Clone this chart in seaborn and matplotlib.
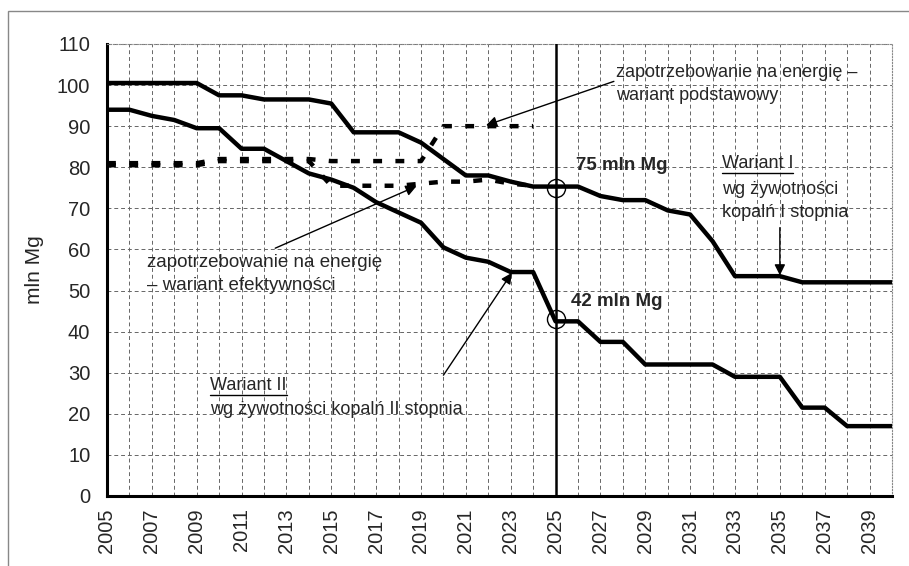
import numpy as np
import pandas as pd
import matplotlib
matplotlib.use("Agg")
import matplotlib.pyplot as plt
import seaborn as sns
from matplotlib.patches import Rectangle
from matplotlib.lines import Line2D

# data
years = list(range(2005, 2041))
wariant_1 = [100.5, 100.5, 100.5, 100.5, 100.5, 97.5, 97.5, 96.5, 96.5, 96.5,
             95.5, 88.5, 88.5, 88.5, 86.0, 82.0, 78.0, 78.0, 76.5, 75.3,
             75.3, 75.3, 73.0, 72.0, 72.0, 69.5, 68.5, 62.0, 53.5, 53.5,
             53.5, 52.0, 52.0, 52.0, 52.0, 52.0]
wariant_2 = [94.0, 94.0, 92.5, 91.5, 89.5, 89.5, 84.5, 84.5, 81.5, 78.5,
             77.0, 75.0, 71.5, 69.0, 66.5, 60.5, 58.0, 57.0, 54.5, 54.5,
             42.5, 42.5, 37.5, 37.5, 32.0, 32.0, 32.0, 32.0, 29.0, 29.0,
             29.0, 21.5, 21.5, 17.0, 17.0, 17.0]
demand_years = list(range(2005, 2025))
demand_basic = [81.0, 81.0, 81.0, 81.0, 81.0, 82.0, 82.0, 82.0, 82.0, 82.0,
                81.5, 81.5, 81.5, 81.5, 81.5, 90.0, 90.0, 90.0, 90.0, 90.0]
demand_eff = [80.5, 80.5, 80.5, 80.5, 80.5, 81.5, 81.5, 81.5, 81.5, 81.5,
              75.5, 75.5, 75.5, 75.5, 76.0, 76.5, 76.5, 77.0, 76.0, 75.5]
mark_year = 2025
mark_vals = [75, 43]
mark_labels = ["75 mln Mg", "42 mln Mg"]
x_ticklabels = [str(y) if (y - 2005) % 2 == 0 else "" for y in years]
y_ticks = list(range(0, 111, 10))

sns.set_style("white")
plt.rcParams['font.family'] = ['Liberation Sans', 'DejaVu Sans']

fig = plt.figure(figsize=(9.09, 5.66), dpi=100)
ax = fig.add_axes([0.1177, 0.1237, 0.8636, 0.7986])

# grid
for y in y_ticks[1:]:
    ax.axhline(y, color='#666666', lw=0.7, ls=(0, (4, 3)), zorder=0)
for x in years[1:]:
    ax.axvline(x, color='#666666', lw=0.7, ls=(0, (4, 3)), zorder=0)

# demand lines (dashed)
sns.lineplot(x=demand_years, y=demand_eff, ax=ax, color='black', lw=3.2,
             linestyle=(0, (2, 3)), zorder=3)
sns.lineplot(x=demand_years, y=demand_basic, ax=ax, color='black', lw=3.2,
             linestyle=(0, (2, 3)), zorder=3)

# supply variants
sns.lineplot(x=years, y=wariant_1, ax=ax, color='black', lw=3.2, zorder=4)
sns.lineplot(x=years, y=wariant_2, ax=ax, color='black', lw=3.2, zorder=4)

ax.axvline(mark_year, color='black', lw=1.8, zorder=5)
ax.plot([mark_year] * len(mark_vals), mark_vals, ls='none', marker='o', ms=13,
        mfc='none', mec='black', mew=1.0, zorder=6)

ax.text(mark_year + 0.9, 80.5, mark_labels[0], fontsize=13.5, fontweight='bold', va='center')
ax.text(mark_year + 0.7, 47.3, mark_labels[1], fontsize=13.5, fontweight='bold', va='center')

ax.text(2027.7, 100.3, "zapotrzebowanie na energię –\nwariant podstawowy",
        fontsize=13, va='center', ha='left', linespacing=1.45)
ax.text(2006.8, 54.0, "zapotrzebowanie na energię\n– wariant efektywności",
        fontsize=13.5, va='center', ha='left', linespacing=1.4)
t1 = ax.text(2032.4, 80.8, "Wariant I", fontsize=13, va='center', ha='left')
ax.text(2032.4, 71.8, "wg żywotności\nkopalń I stopnia", fontsize=13, va='center',
        ha='left', linespacing=1.45)
t2 = ax.text(2009.6, 27.0, "Wariant II", fontsize=13, va='center', ha='left')
ax.text(2009.6, 21.0, "wg żywotności kopalń II stopnia", fontsize=13, va='center', ha='left')

arrow = dict(arrowstyle='-|>', lw=1.0, color='black', mutation_scale=16,
             shrinkA=0, shrinkB=0)
ax.annotate("", xy=(2021.9, 90.2), xytext=(2027.6, 100.9), arrowprops=arrow)
ax.annotate("", xy=(2018.8, 75.4), xytext=(2012.5, 60.3), arrowprops=arrow)
ax.annotate("", xy=(2023.05, 54.3), xytext=(2020.0, 29.4), arrowprops=arrow)
ax.annotate("", xy=(2035.0, 53.7), xytext=(2035.0, 65.3), arrowprops=arrow)

ax.set_xlim(2005, 2040)
ax.set_ylim(0, 110)
ax.set_xticks(years)
ax.set_xticklabels(x_ticklabels, rotation=90, fontsize=14.5)
ax.set_yticks(y_ticks)
ax.set_yticklabels([str(v) for v in y_ticks], fontsize=14.5)
ax.tick_params(axis='x', direction='inout', length=8, width=2, pad=5)
ax.tick_params(axis='y', direction='out', length=6, width=2, pad=6)
ax.set_ylabel("mln Mg", fontsize=15, labelpad=9)

for side in ['left', 'bottom']:
    ax.spines[side].set_linewidth(2.2)
    ax.spines[side].set_color('black')
for side in ['top', 'right']:
    ax.spines[side].set_linewidth(0.8)
    ax.spines[side].set_color('#888888')
    ax.spines[side].set_linestyle(':')

# frame around the figure
fig.patches.append(Rectangle((8 / 909, -0.05), 1.1, 1.05 - 11 / 566,
                             transform=fig.transFigure, fill=False,
                             edgecolor='#888888', lw=1.0))

# underline the variant titles
fig.canvas.draw()
renderer = fig.canvas.get_renderer()
for t in [t1, t2]:
    bb = t.get_window_extent(renderer)
    fig.add_artist(Line2D([bb.x0, bb.x1], [bb.y0 - 1, bb.y0 - 1],
                          transform=None, color='black', lw=1.0))

fig.savefig("out.png", dpi=100)
